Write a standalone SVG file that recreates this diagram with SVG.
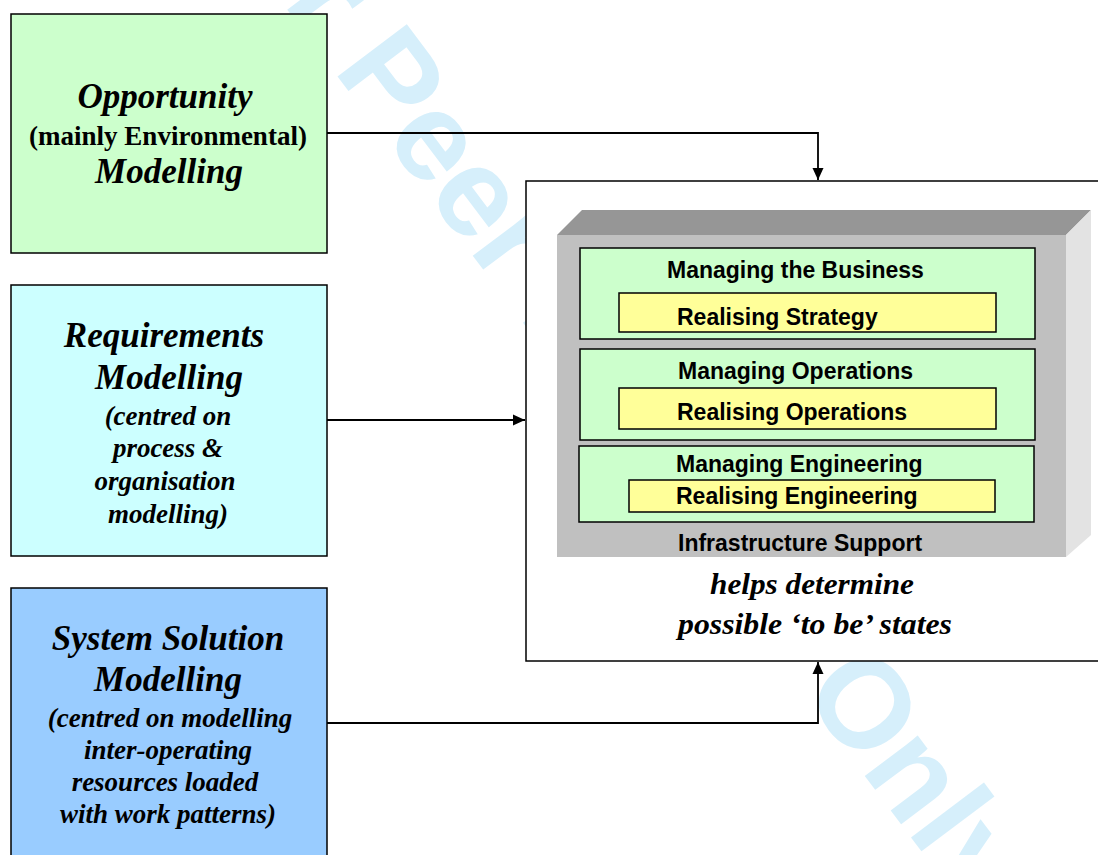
<svg xmlns="http://www.w3.org/2000/svg" width="1098" height="855" viewBox="0 0 1098 855">
<defs>
<marker id="arr" viewBox="0 0 12 12" refX="12" refY="6" markerWidth="12" markerHeight="12" markerUnits="userSpaceOnUse" orient="auto">
<path d="M0,0.5 L12,6 L0,11.5 Z" fill="#000"/>
</marker>
<style>
.box{stroke:#000;stroke-width:1.5}
.ttl{font-family:"Liberation Serif","Times New Roman",serif;font-weight:bold;font-style:italic;font-size:35px;fill:#000;text-anchor:middle}
.sub{font-family:"Liberation Serif","Times New Roman",serif;font-weight:bold;font-style:italic;font-size:27px;fill:#000;text-anchor:middle}
.subr{font-family:"Liberation Serif","Times New Roman",serif;font-weight:bold;font-size:27px;fill:#000;text-anchor:middle}
.lbl{font-family:"Liberation Sans",Arial,sans-serif;font-weight:bold;font-size:23px;fill:#000}
.note{font-family:"Liberation Serif","Times New Roman",serif;font-weight:bold;font-style:italic;font-size:30px;fill:#000}
.green{fill:#ccffcc;stroke:#000;stroke-width:1.5}
.yellow{fill:#ffff99;stroke:#000;stroke-width:1.5}
.conn{fill:none;stroke:#000;stroke-width:1.8}
.wm{font-family:"Liberation Sans",Arial,sans-serif;font-weight:bold;font-size:126px;fill:#d6effb}
</style>
</defs>
<rect width="1098" height="855" fill="#fff"/>
<text class="wm" transform="translate(332.6,69.8) rotate(53)" x="-238" y="0">For Peer Review Only</text>

<g id="opportunity">
<rect class="box" x="11" y="14" width="316" height="239" fill="#ccffcc"/>
<text class="ttl" x="165" y="108">Opportunity</text>
<text class="subr" x="168" y="145">(mainly Environmental)</text>
<text class="ttl" x="169" y="183">Modelling</text>
</g>

<g id="requirements">
<rect class="box" x="11" y="285" width="316" height="271" fill="#ccffff"/>
<text class="ttl" x="164" y="347">Requirements</text>
<text class="ttl" x="169" y="389">Modelling</text>
<text class="sub" x="168" y="425">(centred on</text>
<text class="sub" x="168" y="457">process &amp;</text>
<text class="sub" x="165" y="490">organisation</text>
<text class="sub" x="168" y="523">modelling)</text>
</g>

<g id="system-solution">
<rect class="box" x="11" y="588" width="316" height="300" fill="#99ccff"/>
<text class="ttl" x="168" y="650">System Solution</text>
<text class="ttl" x="168" y="691">Modelling</text>
<text class="sub" x="170" y="727">(centred on modelling</text>
<text class="sub" x="168" y="759">inter-operating</text>
<text class="sub" x="165" y="791">resources loaded</text>
<text class="sub" x="168" y="823">with work patterns)</text>
</g>

<g id="framework">
<rect class="box" x="526" y="181" width="620" height="480" fill="#fff"/>
<polygon points="557,235 582,210 1091,210 1066,235" fill="#969696"/>
<polygon points="1066,235 1091,210 1091,535 1066,557" fill="#e3e3e3"/>
<rect x="557" y="235" width="509" height="322" fill="#c0c0c0"/>
<g id="business">
<rect class="green" x="580" y="248" width="455" height="91"/>
<text class="lbl" x="667" y="278">Managing the Business</text>
<rect class="yellow" x="619" y="293" width="377" height="39"/>
<text class="lbl" x="677" y="325">Realising Strategy</text>
</g>
<g id="operations">
<rect class="green" x="580" y="349" width="455" height="91"/>
<text class="lbl" x="678" y="379">Managing Operations</text>
<rect class="yellow" x="619" y="388" width="377" height="41"/>
<text class="lbl" x="677" y="420">Realising Operations</text>
</g>
<g id="engineering">
<rect class="green" x="579" y="446" width="455" height="76"/>
<text class="lbl" x="676" y="472">Managing Engineering</text>
<rect class="yellow" x="629" y="480" width="366" height="32"/>
<text class="lbl" x="676" y="504">Realising Engineering</text>
</g>
<text class="lbl" x="678" y="551">Infrastructure Support</text>
<text class="note" x="710" y="594" textLength="204" lengthAdjust="spacingAndGlyphs">helps determine</text>
<text class="note" x="678" y="634" textLength="274" lengthAdjust="spacingAndGlyphs">possible ‘to be’ states</text>
</g>

<g id="connectors">
<path class="conn" d="M327,133 H818 V180" marker-end="url(#arr)"/>
<path class="conn" d="M327,420 H525" marker-end="url(#arr)"/>
<path class="conn" d="M327,723 H818 V662" marker-end="url(#arr)"/>
</g>
</svg>
